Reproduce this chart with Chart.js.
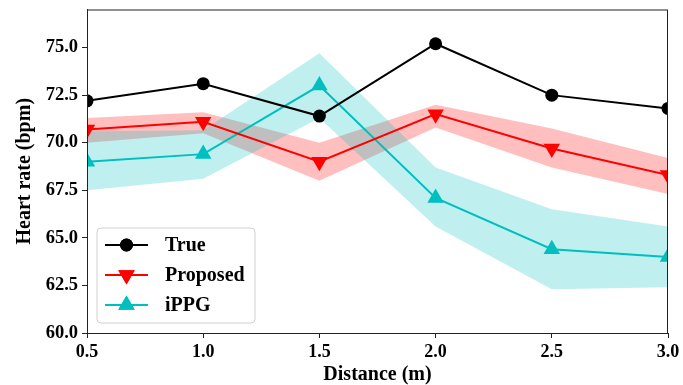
<!DOCTYPE html>
<html>
<head>
<meta charset="utf-8">
<script src="https://cdn.jsdelivr.net/npm/chart.js@4/dist/chart.umd.min.js"></script>
<style>
  html, body { margin: 0; padding: 0; background: #fff; }
  #wrap { width: 683px; height: 385px; }
</style>
</head>
<body>
<div id="wrap"><canvas id="hr" width="683" height="385"></canvas></div>
<script>
// data
const distances = [0.5, 1.0, 1.5, 2.0, 2.5, 3.0];
const trueHR = [72.2, 73.1, 71.4, 75.2, 72.5, 71.8];
const proposedHR = [70.7, 71.1, 69.0, 71.5, 69.7, 68.3];
const proposedLow = [70.0, 70.5, 68.0, 70.8, 68.7, 67.3];
const proposedHigh = [71.3, 71.6, 70.0, 72.0, 70.75, 69.2];
const ippgHR = [69.0, 69.4, 73.0, 67.1, 64.4, 64.0];
const ippgLow = [67.5, 68.1, 71.3, 65.6, 62.3, 62.4];
const ippgHigh = [70.6, 70.65, 74.7, 68.7, 66.5, 65.6];
const xTicks = [0.5, 1.0, 1.5, 2.0, 2.5, 3.0];
const yTicks = [60, 62.5, 65, 67.5, 70, 72.5, 75];

const FONT = '"Liberation Serif", "Times New Roman", serif';
const pts = arr => arr.map((v, i) => ({ x: distances[i], y: v }));

function band(low, high, color, order) {
  return [
    { label: '_low', data: pts(low), pointRadius: 0, borderWidth: 0, fill: false, order: order },
    { label: '_high', data: pts(high), pointRadius: 0, borderWidth: 0, fill: '-1', backgroundColor: color, order: order }
  ];
}

function series(label, data, color, style, radius, rotation) {
  return {
    label: label, data: pts(data), borderColor: color, backgroundColor: color,
    borderWidth: 2, pointStyle: style, pointRadius: radius, pointRotation: rotation,
    pointBorderWidth: 0, pointBackgroundColor: color, fill: false, order: 0, isSeries: true
  };
}

const frameAndLegend = {
  id: 'frameAndLegend',
  afterDraw(chart) {
    const ctx = chart.ctx, a = chart.chartArea;
    ctx.save();
    ctx.strokeStyle = '#222';
    ctx.lineWidth = 1;
    ctx.strokeRect(a.left + 0.5, a.top + 0.5, a.right - a.left - 1, a.bottom - a.top);

    // legend box in lower left of the plot
    const bx = a.left + 10, by = a.bottom - 105, bw = 158, bh = 95;
    ctx.beginPath();
    ctx.roundRect(bx, by, bw, bh, 4);
    ctx.fillStyle = 'rgba(255,255,255,0.8)';
    ctx.fill();
    ctx.strokeStyle = '#d0d0d0';
    ctx.stroke();

    const items = chart.data.datasets.filter(d => d.isSeries);
    items.forEach((d, i) => {
      const y = by + 17 + i * 30;
      ctx.strokeStyle = d.borderColor;
      ctx.lineWidth = 2;
      ctx.beginPath();
      ctx.moveTo(bx + 8, y);
      ctx.lineTo(bx + 51, y);
      ctx.stroke();
      ctx.fillStyle = d.backgroundColor;
      Chart.helpers.drawPoint(ctx, { pointStyle: d.pointStyle, radius: d.pointRadius, rotation: d.pointRotation, borderWidth: 0 }, bx + 29.5, y);
      ctx.fill();
      ctx.fillStyle = '#000';
      ctx.font = 'bold 20px ' + FONT;
      ctx.textBaseline = 'middle';
      ctx.textAlign = 'left';
      ctx.fillText(d.label, bx + 68, y + 1);
    });
    ctx.restore();
  }
};

new Chart(document.getElementById('hr'), {
  type: 'line',
  data: {
    datasets: [
      series('True', trueHR, '#000000', 'circle', 6.5, 0),
      series('Proposed', proposedHR, '#ff0000', 'triangle', 9.5, 180),
      series('iPPG', ippgHR, '#00bfbf', 'triangle', 9.5, 0),
      ...band(proposedLow, proposedHigh, 'rgba(255,0,0,0.25)', 3),
      ...band(ippgLow, ippgHigh, 'rgba(0,191,191,0.25)', 2)
    ]
  },
  options: {
    responsive: false,
    animation: false,
    layout: { padding: { left: 0, top: 9, right: 15, bottom: 0 } },
    plugins: { legend: { display: false }, tooltip: { enabled: false } },
    elements: { line: { tension: 0 } },
    scales: {
      x: {
        type: 'linear', min: 0.5, max: 3.0,
        afterBuildTicks: s => { s.ticks = xTicks.map(v => ({ value: v })); },
        afterFit: s => { s.height = 52; s.paddingLeft = 0; s.paddingRight = 0; },
        ticks: { callback: v => v.toFixed(1), color: '#000', font: { family: FONT, size: 18, weight: 'bold' }, padding: 4, maxRotation: 0 },
        grid: { drawOnChartArea: false, tickLength: 5, tickColor: '#222' },
        border: { color: '#222' },
        title: { display: true, text: 'Distance (m)', color: '#000', font: { family: FONT, size: 20, weight: 'bold', lineHeight: 1.0 }, padding: { top: 0, bottom: 0 } }
      },
      y: {
        type: 'linear', min: 60, max: 77,
        afterBuildTicks: s => { s.ticks = yTicks.map(v => ({ value: v })); },
        afterFit: s => { s.width = 87; s.paddingTop = 0; s.paddingBottom = 0; },
        ticks: { callback: v => v.toFixed(1), color: '#000', font: { family: FONT, size: 18.5, weight: 'bold' }, padding: 4 },
        grid: { drawOnChartArea: false, tickLength: 5, tickColor: '#222' },
        border: { color: '#222' },
        title: { display: true, text: 'Heart rate (bpm)', color: '#000', font: { family: FONT, size: 20, weight: 'bold' }, padding: { top: 13, bottom: 0 } }
      }
    }
  },
  plugins: [frameAndLegend]
});
</script>
</body>
</html>
